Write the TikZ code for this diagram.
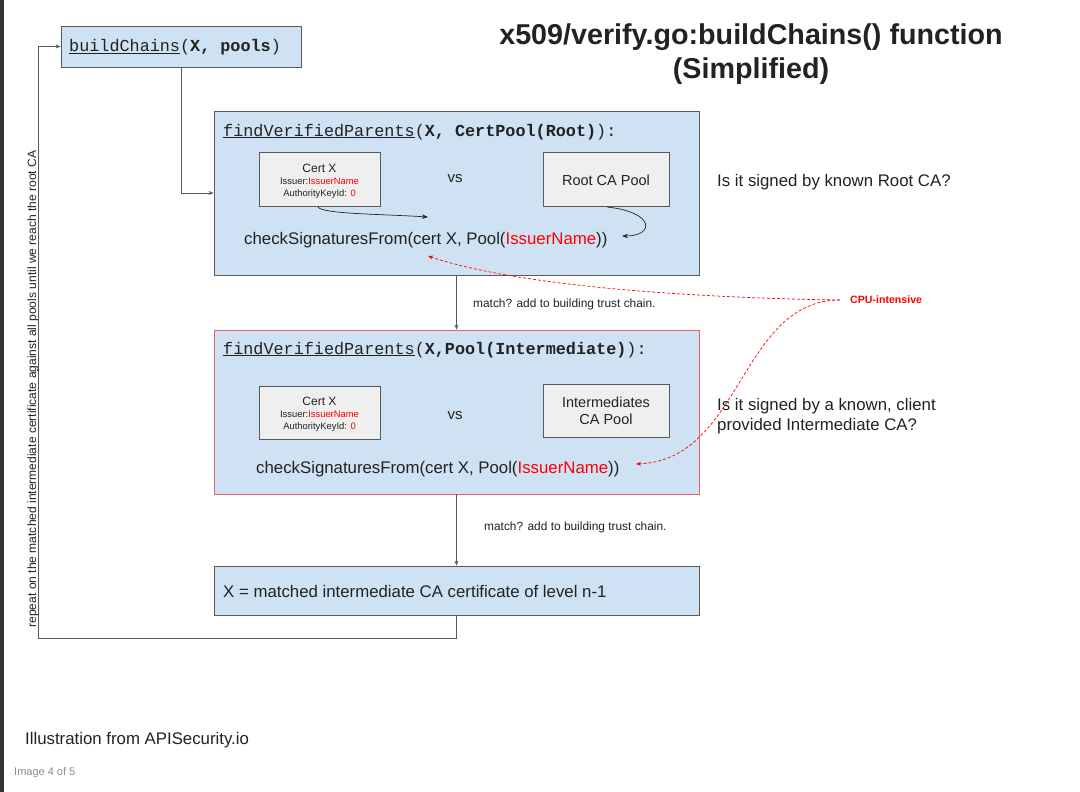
\documentclass[tikz,border=0pt]{standalone}
\usepackage{fontspec}
\setmainfont{Liberation Sans}
\setmonofont{Liberation Mono}
\usetikzlibrary{arrows.meta}
\definecolor{boxblue}{HTML}{CFE2F3}
\definecolor{edge}{HTML}{595959}
\definecolor{redline}{HTML}{E06666}
\definecolor{inner}{HTML}{EFEFEF}
\definecolor{ired}{HTML}{FF0000}
\definecolor{txt}{HTML}{222222}
\begin{document}
\begin{tikzpicture}[x=1pt,y=-1pt,
  bluebox/.style={draw=edge, fill=boxblue, line width=0.8pt, inner sep=0pt},
  redbox/.style={draw=redline, fill=boxblue, line width=0.8pt, inner sep=0pt},
  greybox/.style={draw=edge, fill=inner, line width=0.6pt, inner sep=0pt},
  lbl/.style={inner sep=0pt, text=txt},
  conn/.style={draw=edge, line width=0.8pt, -{Stealth[length=5pt,width=4pt]}},
  thin/.style={draw=black!85, line width=0.7pt, -{Stealth[length=6pt,width=4.5pt]}},
  reddash/.style={draw=ired, line width=0.7pt, dash pattern=on 3pt off 2pt, -{Stealth[length=5pt,width=4pt]}},
  code/.style={font=\fontsize{16.8}{20}\selectfont\ttfamily},
  big/.style={font=\fontsize{16.8}{20}\selectfont},
  small/.style={font=\fontsize{11.9}{14}\selectfont}
]
\useasboundingbox (0,0) rectangle (1080,792);
\fill[white] (0,0) rectangle (1080,792);
\fill[black!80] (0,0) rectangle (4,792);

% title
\node[lbl, anchor=base, font=\fontsize{28.7}{34}\selectfont\bfseries] (title1) at (751,44.5) {x509/verify.go:buildChains() function};
\node[lbl, anchor=base, font=\fontsize{28.7}{34}\selectfont\bfseries] (title2) at (751,79) {(Simplified)};

% buildChains box
\node[bluebox, minimum width=240pt, minimum height=41pt] (bc) at (181,46.5) {};
\node[lbl, code, anchor=base west] (bct) at (69,52) {\underline{buildChains}(\textbf{X, pools})};

% box 1
\node[bluebox, minimum width=485pt, minimum height=164pt] (b1) at (456.5,193) {};
\node[lbl, code, anchor=base west] (h1) at (223,136) {\underline{findVerifiedParents}(\textbf{X, CertPool(Root)}):};
\node[greybox, minimum width=121pt, minimum height=54pt] (cx1) at (319.5,179) {};
\node[lbl, anchor=base, font=\fontsize{12}{14}\selectfont] (cx1a) at (319.5,172.5) {Cert X};
\node[lbl, anchor=base, font=\fontsize{9.4}{11}\selectfont] (cx1b) at (319.5,184.5) {Issuer:\textcolor{ired}{IssuerName}};
\node[lbl, anchor=base, font=\fontsize{9.4}{11}\selectfont] (cx1c) at (319.5,196.5) {AuthorityKeyId: \textcolor{ired}{0}};
\node[lbl, anchor=base, font=\fontsize{15}{18}\selectfont] (vs1) at (455,182) {vs};
\node[greybox, minimum width=126pt, minimum height=54pt] (rp) at (606,179) {};
\node[lbl, anchor=base, font=\fontsize{14.5}{17}\selectfont] (rpt) at (606,185) {Root CA Pool};
\node[lbl, big, anchor=base west] (cs1) at (244,244) {checkSignaturesFrom(cert X, Pool(\textcolor{ired}{IssuerName}))};
\coordinate (cs1in) at (428,217);
\coordinate (cs1r) at (622,236);
\draw[thin] (318,207) .. controls (322,214) and (380,214) .. (cs1in);
\draw[thin] (607,207) .. controls (655,212) and (655,236) .. (cs1r);

\node[lbl, big, anchor=base west] (q1) at (717,186) {Is it signed by known Root CA?};

% box 2
\node[redbox, minimum width=485pt, minimum height=164pt] (b2) at (456.5,412) {};
\draw[conn] (b1.south) -- (b2.north);
\node[lbl, small, anchor=base west] (m1) at (473,307) {match? add to building trust chain.};

\node[lbl, code, anchor=base west] (h2) at (223,354) {\underline{findVerifiedParents}(\textbf{X,Pool(Intermediate)}):};
\node[greybox, minimum width=121pt, minimum height=53pt] (cx2) at (319.5,412.5) {};
\node[lbl, anchor=base, font=\fontsize{12}{14}\selectfont] (cx2a) at (319.5,405.5) {Cert X};
\node[lbl, anchor=base, font=\fontsize{9.4}{11}\selectfont] (cx2b) at (319.5,417.5) {Issuer:\textcolor{ired}{IssuerName}};
\node[lbl, anchor=base, font=\fontsize{9.4}{11}\selectfont] (cx2c) at (319.5,429.5) {AuthorityKeyId: \textcolor{ired}{0}};
\node[lbl, anchor=base, font=\fontsize{15}{18}\selectfont] (vs2) at (455,419) {vs};
\node[greybox, minimum width=126pt, minimum height=53pt] (ip) at (606,410.5) {};
\node[lbl, anchor=base, font=\fontsize{14.5}{17}\selectfont] (ipa) at (606,407) {Intermediates};
\node[lbl, anchor=base, font=\fontsize{14.5}{17}\selectfont] (ipb) at (606,424) {CA Pool};
\node[lbl, big, anchor=base west] (cs2) at (256,473) {checkSignaturesFrom(cert X, Pool(\textcolor{ired}{IssuerName}))};

\node[lbl, big, anchor=base west] (q2a) at (717,410) {Is it signed by a known, client};
\node[lbl, big, anchor=base west] (q2b) at (717,430) {provided Intermediate CA?};

% box 3
\node[bluebox, minimum width=485pt, minimum height=49pt] (b3) at (456.5,590.5) {};
\draw[conn] (b2.south) -- (b3.north);
\node[lbl, small, anchor=base west] (m2) at (484,530) {match? add to building trust chain.};
\node[lbl, big, anchor=base west] (b3t) at (223,597) {X = matched intermediate CA certificate of level n-1};

% connectors
\draw[conn] (bc.south) |- (b1.west);
\coordinate (lp) at (38,638);
\draw[conn] (b3.south) |- (lp) |- (bc.west);
\node[lbl, rotate=90, anchor=base, font=\fontsize{12.05}{15}\selectfont] (rep) at (36,389) {repeat on the matched intermediate certificate against all pools until we reach the root CA};

% CPU intensive
\node[lbl, anchor=base west, text=ired, font=\fontsize{10.6}{12}\selectfont\bfseries] (cpu) at (850,303.5) {CPU-intensive};
\coordinate (cpuL) at (840,300);
\coordinate (t1) at (428,256);
\coordinate (t2) at (636,464);
\draw[reddash] (cpuL) .. controls (700,298) and (520,287) .. (t1);
\draw[reddash] (cpuL) .. controls (740,300) and (742,460) .. (t2);

% footer
\node[lbl, big, anchor=base west] (ill) at (25,744) {Illustration from APISecurity.io};
\node[lbl, anchor=base west, text=black!45, font=\fontsize{11}{13}\selectfont] (img) at (14,775) {Image 4 of 5};
\end{tikzpicture}
\end{document}
